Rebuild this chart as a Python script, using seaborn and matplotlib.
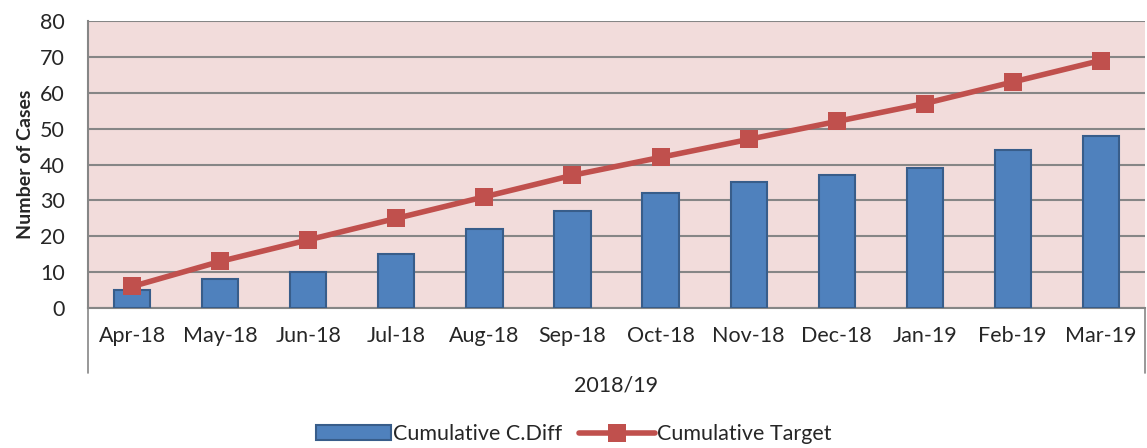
import numpy as np
import seaborn as sns
import matplotlib.pyplot as plt
from matplotlib.lines import Line2D

months = ["Apr-18", "May-18", "Jun-18", "Jul-18", "Aug-18", "Sep-18",
          "Oct-18", "Nov-18", "Dec-18", "Jan-19", "Feb-19", "Mar-19"]
cum_cdiff = [5, 8, 10, 15, 22, 27, 32, 35, 37, 39, 44, 48]
cum_target = [6, 13, 19, 25, 31, 37, 42, 47, 52, 57, 63, 69]
year_label = "2018/19"

sns.set_style("white")
plt.rcParams['font.family'] = ['Lato', 'DejaVu Sans']

fig = plt.figure(figsize=(11.47, 4.48), dpi=100)
ax = fig.add_axes([0.077, 0.3125, 0.921, 0.6405])
ax.set_facecolor("#F2DCDB")

# bars
sns.barplot(x=months, y=cum_cdiff, color="#4F81BD", edgecolor="#385D8A",
            linewidth=1.5, width=0.41, saturation=1, ax=ax, zorder=3,
            label="Cumulative C.Diff")

# target line
sns.lineplot(x=np.arange(len(months)), y=cum_target, color="#C0504D",
             linewidth=4, marker="s", markersize=13, markeredgewidth=0,
             ax=ax, zorder=4, label="Cumulative Target")

ax.set_xlim(-0.5, len(months) - 0.5)
ax.set_ylim(0, 80)
ax.set_yticks(range(0, 81, 10))
ax.yaxis.grid(True, color="#868686", linewidth=1.5)
ax.set_axisbelow(True)
ax.tick_params(axis='y', labelsize=15.5, length=0, pad=17)
ax.tick_params(axis='x', labelsize=15.5, length=0, pad=13)
ax.set_ylabel("Number of Cases", fontsize=14, fontweight="bold", labelpad=4)

for s in ["top", "right"]:
    ax.spines[s].set_visible(False)
ax.spines["left"].set_color("#868686")
ax.spines["left"].set_linewidth(1.5)
ax.spines["bottom"].set_color("#868686")
ax.spines["bottom"].set_linewidth(1.5)

# category box below axis
for xa in [0, 1]:
    ax.add_line(Line2D([xa, xa], [0, -0.225], transform=ax.transAxes,
                       color="#868686", linewidth=1.2, clip_on=False))
ax.text(0.5, -0.27, year_label, transform=ax.transAxes, ha="center",
        va="center", fontsize=15.5)

ax.legend_.remove()
handles, labels = ax.get_legend_handles_labels()
order = [labels.index("Cumulative C.Diff"), labels.index("Cumulative Target")]
fig.legend([handles[i] for i in order], [labels[i] for i in order],
           loc="lower center", ncol=2, frameon=False, fontsize=15.5,
           bbox_to_anchor=(0.5, -0.035), handlelength=3.5,
           columnspacing=0.8, handletextpad=0.1)

fig.savefig("out.png", dpi=100)
